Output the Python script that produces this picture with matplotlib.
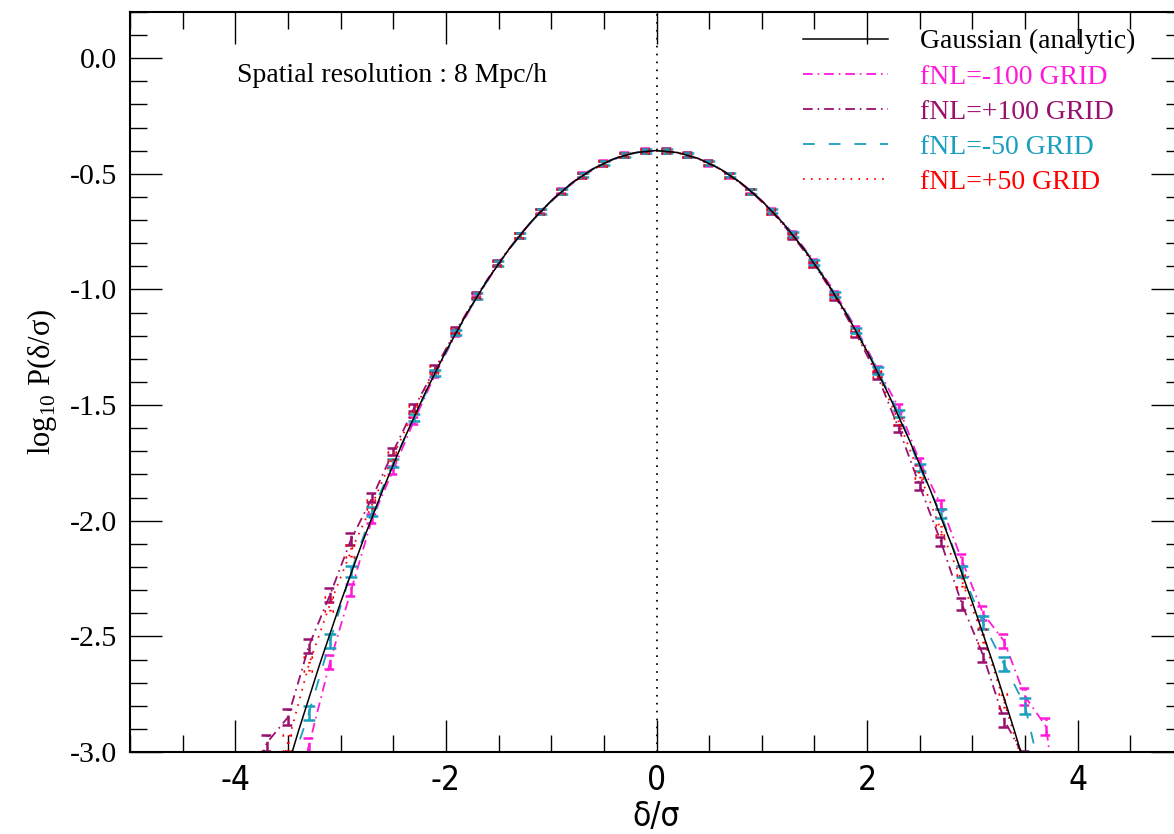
import matplotlib
matplotlib.use("Agg")
import matplotlib.pyplot as plt
from matplotlib import font_manager
from matplotlib.font_manager import FontProperties
from matplotlib.ticker import MultipleLocator
import numpy as np

# bin centres (delta/sigma)
x_bins = [-3.9, -3.7, -3.5, -3.3, -3.1, -2.9, -2.7, -2.5, -2.3, -2.1, -1.9, -1.7, -1.5, -1.3,
          -1.1, -0.9, -0.7, -0.5, -0.3, -0.1, 0.1, 0.3, 0.5, 0.7, 0.9, 1.1, 1.3, 1.5,
          1.7, 1.9, 2.1, 2.3, 2.5, 2.7, 2.9, 3.1, 3.3, 3.5, 3.7, 3.9]

# analytic gaussian, log10 P
x_gauss = [-3.6, -3.4, -3.2, -3.0, -2.8, -2.6, -2.4, -2.2, -2.0, -1.8, -1.6, -1.4, -1.2, -1.0,
           -0.8, -0.6, -0.4, -0.2, 0.0, 0.2, 0.4, 0.6, 0.8, 1.0, 1.2, 1.4, 1.6, 1.8,
           2.0, 2.2, 2.4, 2.6, 2.8, 3.0, 3.2, 3.4, 3.6]
y_gauss = [-3.2133, -2.9093, -2.6227, -2.3534, -2.1015, -1.8670, -1.6499, -1.4501, -1.2677,
           -1.1026, -0.9550, -0.8247, -0.7118, -0.6163, -0.5380, -0.4773, -0.4339, -0.4078,
           -0.3989, -0.4078, -0.4339, -0.4773, -0.5380, -0.6163, -0.7118, -0.8247, -0.9550,
           -1.1026, -1.2677, -1.4501, -1.6499, -1.8670, -2.1015, -2.3534, -2.6227, -2.9093,
           -3.2133]

fnl_m100 = [-3.90, -3.60, -3.35, -2.97, -2.61, -2.30, -1.99, -1.78, -1.565, -1.365, -1.188,
            -1.030, -0.889, -0.766, -0.661, -0.573, -0.503, -0.451, -0.417, -0.400, -0.401,
            -0.419, -0.454, -0.506, -0.574, -0.659, -0.760, -0.880, -1.018, -1.172, -1.343,
            -1.51, -1.745, -1.93, -2.17, -2.40, -2.52, -2.76, -2.89, -3.60]
fnl_p100 = [-3.20, -2.96, -2.85, -2.54, -2.32, -2.08, -1.90, -1.70, -1.51, -1.34, -1.175,
            -1.022, -0.884, -0.765, -0.662, -0.576, -0.507, -0.455, -0.419, -0.401, -0.400,
            -0.417, -0.452, -0.505, -0.577, -0.665, -0.772, -0.893, -1.033, -1.195, -1.375,
            -1.60, -1.85, -2.09, -2.36, -2.58, -2.86, -3.03, -3.40, -3.80]
fnl_m50 = [-3.60, -3.30, -3.10, -2.83, -2.52, -2.22, -1.96, -1.75, -1.555, -1.36, -1.185,
           -1.028, -0.888, -0.767, -0.662, -0.575, -0.505, -0.453, -0.418, -0.401, -0.401,
           -0.418, -0.453, -0.505, -0.575, -0.661, -0.763, -0.884, -1.022, -1.178, -1.350,
           -1.535, -1.77, -1.97, -2.22, -2.44, -2.62, -2.80, -3.20, -3.60]
fnl_p50 = [-3.50, -3.30, -2.96, -2.62, -2.36, -2.13, -1.93, -1.72, -1.52, -1.345, -1.178,
           -1.025, -0.886, -0.766, -0.662, -0.575, -0.506, -0.454, -0.418, -0.401, -0.401,
           -0.418, -0.453, -0.506, -0.576, -0.663, -0.768, -0.890, -1.030, -1.188, -1.365,
           -1.57, -1.80, -2.04, -2.26, -2.50, -2.78, -3.08, -3.40, -3.80]
err = [0.035, 0.035, 0.035, 0.03, 0.03, 0.025, 0.02, 0.016, 0.015, 0.014, 0.012, 0.012, 0.011,
       0.011, 0.01, 0.01, 0.01, 0.01, 0.01, 0.01, 0.01, 0.01, 0.01, 0.01, 0.01,
       0.01, 0.011, 0.011, 0.012, 0.012, 0.014, 0.015, 0.016, 0.02, 0.025, 0.03, 0.03, 0.035,
       0.035, 0.035]

names = ["fNL=-100 GRID", "fNL=+100 GRID", "fNL=-50 GRID", "fNL=+50 GRID"]
colors = ["#ff1ad9", "#99106e", "#1a9fbf", "#ff0000"]

# narrow sans for the x axis numbers
narrow_path = None
for f in font_manager.fontManager.ttflist:
    if f.name == "Liberation Sans Narrow" and f.style == "normal" and f.weight in (400, "normal"):
        narrow_path = f.fname
        break
if narrow_path is None:
    for f in font_manager.fontManager.ttflist:
        if f.name == "DejaVu Sans" and "Condensed" in f.fname and "Bold" not in f.fname \
                and "Oblique" not in f.fname:
            narrow_path = f.fname
            break
if narrow_path:
    xfont = FontProperties(fname=narrow_path, size=24)
else:
    xfont = FontProperties(family="Liberation Sans", size=24)

plt.rcParams["font.family"] = "Liberation Serif"
plt.rcParams["mathtext.fontset"] = "custom"
plt.rcParams["mathtext.rm"] = "Liberation Serif"
plt.rcParams["lines.scale_dashes"] = False

fig = plt.figure(figsize=(11.74, 8.34), dpi=100)
ax = fig.add_axes([130 / 1174, 1 - 752 / 834, 1053 / 1174, 740 / 834])

styles = [(0, (7, 3.5, 1.2, 3.5)), (0, (7, 3.5, 1.2, 3.5)), (0, (8.5, 10)), (0, (1.2, 4.5))]
series = [fnl_m100, fnl_p100, fnl_m50, fnl_p50]

ax.plot(x_gauss, y_gauss, color="black", lw=1.1, label="Gaussian (analytic)", zorder=5)
xb = np.array(x_bins)
eb = np.array(err)
cap = 0.058
for ys, c, ls, name in zip(series, colors, styles, names):
    yb = np.array(ys)
    ax.plot(xb, yb, color=c, lw=1.3, linestyle=ls, label=name)
    # error bars drawn in the series line style
    ax.vlines(xb, yb - eb, yb + eb, colors=c, linestyles=[ls], lw=1.8)
    ax.hlines(yb - eb, xb - cap, xb + cap, colors=c, linestyles=[ls], lw=1.8)
    ax.hlines(yb + eb, xb - cap, xb + cap, colors=c, linestyles=[ls], lw=1.8)

ax.axvline(0, color="black", lw=1.3, linestyle=(0, (1.2, 4.5)))

ax.set_xlim(-5, 5)
ax.set_ylim(-3.0, 0.2)
ax.xaxis.set_major_locator(MultipleLocator(2))
ax.xaxis.set_minor_locator(MultipleLocator(0.5))
ax.yaxis.set_major_locator(MultipleLocator(0.5))
ax.yaxis.set_minor_locator(MultipleLocator(0.1))
ax.tick_params(which="both", direction="in", top=True, right=True, width=1.0, color="black")
ax.tick_params(which="major", length=23)
ax.tick_params(which="minor", length=12)
ax.tick_params(axis="y", which="major", labelsize=21.5, pad=9)
ax.tick_params(axis="x", which="major", pad=9)
ax.set_yticks([-3.0, -2.5, -2.0, -1.5, -1.0, -0.5, 0.0])
ax.set_yticklabels(["-3.0", "-2.5", "-2.0", "-1.5", "-1.0", "-0.5", "0.0"])
ax.set_xticks([-4, -2, 0, 2, 4])
ax.set_xticklabels(["-4", "-2", "0", "2", "4"], fontproperties=xfont)
for s in ax.spines.values():
    s.set_linewidth(1.5)

ax.set_xlabel("δ/σ", fontproperties=xfont, labelpad=2)
ax.set_ylabel(r"log$_{10}$ P(δ/σ)", fontsize=22, labelpad=8)

ax.text(237 / 1174, 1 - 75 / 834, "Spatial resolution : 8 Mpc/h", transform=fig.transFigure,
        fontsize=20, va="center", ha="left")

leg = ax.legend(loc="upper left", bbox_to_anchor=(803 / 1174, 1 - 29 / 834),
                bbox_transform=fig.transFigure, frameon=False, fontsize=20,
                handlelength=3.05, handletextpad=1.15, labelspacing=0.35,
                borderpad=0, borderaxespad=0, labelcolor="linecolor")
leg.get_texts()[0].set_color("black")

fig.savefig("out.png", dpi=100)
